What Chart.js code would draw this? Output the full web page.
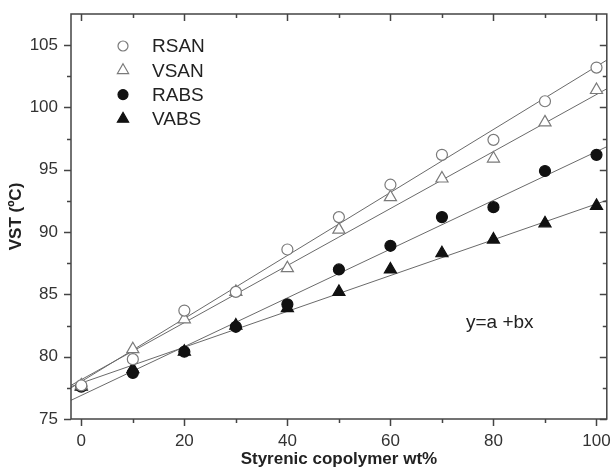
<!DOCTYPE html>
<html>
<head>
<meta charset="utf-8">
<script src="https://cdn.jsdelivr.net/npm/chart.js@4.4.1/dist/chart.umd.min.js"></script>
<style>
  html, body { margin: 0; padding: 0; background: #fff; }
  #wrap { width: 615px; height: 468px; }
</style>
</head>
<body>
<div id="wrap"><canvas id="chart" width="615" height="468"></canvas></div>
<script>
// styrenic copolymer content (wt%)
const copolymerWt = [0, 10, 20, 30, 40, 50, 60, 70, 80, 90, 100];

// VST readings (°C)
const rsan = [77.7, 79.8, 83.7, 85.2, 88.6, 91.2, 93.8, 96.2, 97.4, 100.5, 103.2];
const vsan = [77.7, 80.6, 83.0, 85.2, 87.1, 90.2, 92.8, 94.3, 95.9, 98.8, 101.4];
const rabs = [77.6, 78.7, 80.4, 82.4, 84.2, 87.0, 88.9, 91.2, 92.0, 94.9, 96.2];
const vabs = [77.6, 79.0, 80.4, 82.5, 83.9, 85.2, 87.0, 88.3, 89.4, 90.7, 92.1];

// linear fits y = a + bx, values read at the two plot edges
const fitX = [-2, 102];
const fitRsan = [77.5, 103.8];
const fitVsan = [77.7, 101.5];
const fitRabs = [76.5, 96.85];
const fitVabs = [77.6, 92.55];

const xTickLabels = [0, 20, 40, 60, 80, 100];
const yTickLabels = [75, 80, 85, 90, 95, 100, 105];
const xTickMarks = [0, 10, 20, 30, 40, 50, 60, 70, 80, 90, 100];
const yTickMarks = [75, 77.5, 80, 82.5, 85, 87.5, 90, 92.5, 95, 97.5, 100, 102.5, 105];

const seriesNames = ["RSAN", "VSAN", "RABS", "VABS"];

const FONT = "'Liberation Sans', Arial, sans-serif";
const OPEN = "#7a7a7a";
const SOLID = "#111";

function pts(xs, ys) {
    return xs.map((x, i) => ({x: x, y: ys[i]}));
}

const markerStyles = [
    {pointStyle: "circle", radius: 5.5, fill: "#fff", stroke: OPEN},
    {pointStyle: "triangle", radius: 7, fill: "#fff", stroke: OPEN},
    {pointStyle: "circle", radius: 5.5, fill: SOLID, stroke: SOLID},
    {pointStyle: "triangle", radius: 7, fill: SOLID, stroke: SOLID}
];

function markerSet(name, ys, st) {
    return {
        label: name,
        data: pts(copolymerWt, ys),
        showLine: false,
        pointStyle: st.pointStyle,
        pointRadius: st.radius,
        pointBackgroundColor: st.fill,
        pointBorderColor: st.stroke,
        pointBorderWidth: 1.2,
        order: 0
    };
}

function fitSet(ys) {
    return {
        label: "fit",
        data: pts(fitX, ys),
        showLine: true,
        pointRadius: 0,
        borderColor: "#6a6a6a",
        borderWidth: 1,
        order: 1
    };
}

// frame + inner/outer tick marks
const framePlugin = {
    id: "frame",
    afterDraw(chart) {
        const {ctx, chartArea: a, scales: {x, y}} = chart;
        ctx.save();
        ctx.strokeStyle = "#444";
        ctx.lineWidth = 1.5;
        ctx.strokeRect(a.left, a.top, a.right - a.left, a.bottom - a.top);
        ctx.beginPath();
        xTickMarks.forEach(v => {
            const px = Math.round(x.getPixelForValue(v)) + 0.5;
            const len = v % 20 === 0 ? 7 : 4;
            ctx.moveTo(px, a.bottom); ctx.lineTo(px, a.bottom + len);
            ctx.moveTo(px, a.top); ctx.lineTo(px, a.top + len);
        });
        yTickMarks.forEach(v => {
            const py = Math.round(y.getPixelForValue(v)) + 0.5;
            const len = v % 5 === 0 ? 7 : 4;
            ctx.moveTo(a.left, py); ctx.lineTo(a.left - len, py);
            ctx.moveTo(a.right, py); ctx.lineTo(a.right - len, py);
        });
        ctx.stroke();

        // legend inside the plot
        ctx.font = "19px " + FONT;
        ctx.textBaseline = "middle";
        ctx.textAlign = "left";
        seriesNames.forEach((name, i) => {
            const st = markerStyles[i];
            const cy = 46 + i * 24.3;
            ctx.fillStyle = st.fill;
            ctx.strokeStyle = st.stroke;
            ctx.lineWidth = 1.2;
            Chart.helpers.drawPoint(ctx, {
                pointStyle: st.pointStyle,
                radius: st.pointStyle === "circle" ? 5 : 6.5,
                borderWidth: 1.2,
                rotation: 0
            }, 123, cy);
            ctx.fillStyle = "#222";
            ctx.fillText(name, 152, cy + 1);
        });

        ctx.fillStyle = "#222";
        ctx.fillText("y=a +bx", 466, 323);
        ctx.restore();
    }
};

const ctxEl = document.getElementById("chart");

new Chart(ctxEl, {
    type: "scatter",
    data: {
        datasets: [
            markerSet("RSAN", rsan, markerStyles[0]),
            markerSet("VSAN", vsan, markerStyles[1]),
            markerSet("RABS", rabs, markerStyles[2]),
            markerSet("VABS", vabs, markerStyles[3]),
            fitSet(fitRsan),
            fitSet(fitVsan),
            fitSet(fitRabs),
            fitSet(fitVabs)
        ]
    },
    options: {
        responsive: false,
        animation: false,
        layout: {padding: {top: 14, right: 4, left: 0, bottom: 0}},
        plugins: {
            legend: {display: false},
            tooltip: {enabled: false}
        },
        scales: {
            x: {
                type: "linear",
                min: -2,
                max: 102,
                afterBuildTicks: s => { s.ticks = xTickLabels.map(v => ({value: v})); },
                afterFit: s => {
                    s.height = 49;
                    s.paddingLeft = 0;
                    s.paddingRight = 0;
                },
                grid: {display: false, drawTicks: false},
                border: {display: false},
                ticks: {
                    color: "#333",
                    padding: 12,
                    maxRotation: 0,
                    font: {family: FONT, size: 17}
                },
                title: {
                    display: true,
                    text: "Styrenic copolymer wt%",
                    color: "#222",
                    padding: 0,
                    font: {family: FONT, size: 17, weight: "bold", lineHeight: 1}
                }
            },
            y: {
                type: "linear",
                min: 75,
                max: 107.5,
                afterBuildTicks: s => { s.ticks = yTickLabels.map(v => ({value: v})); },
                afterFit: s => {
                    s.width = 71;
                    s.paddingTop = 0;
                    s.paddingBottom = 0;
                },
                grid: {display: false, drawTicks: false},
                border: {display: false},
                ticks: {
                    color: "#333",
                    padding: 13,
                    font: {family: FONT, size: 17}
                },
                title: {
                    display: true,
                    text: "VST (ºC)",
                    color: "#222",
                    padding: 6,
                    font: {family: FONT, size: 17, weight: "bold", lineHeight: 1.2}
                }
            }
        }
    },
    plugins: [framePlugin]
});
</script>
</body>
</html>
